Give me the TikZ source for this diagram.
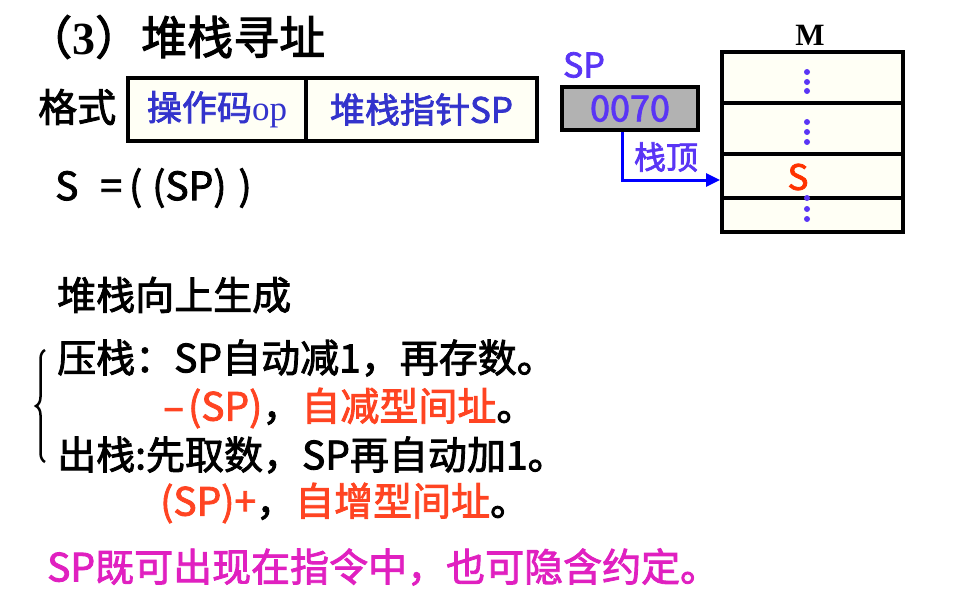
\documentclass[tikz,border=0pt]{standalone}
\usepackage{fontspec}
\setmainfont{Noto Sans CJK SC}[FakeBold=2.2]
\newfontfamily\tmsfont{Liberation Serif}
\usepackage{tikz}
\usetikzlibrary{arrows.meta, positioning, calc, decorations.pathreplacing}
\definecolor{fieldblue}{HTML}{3333CC}
\definecolor{regviolet}{HTML}{5A35F5}
\definecolor{linkblue}{HTML}{0000FF}
\definecolor{stackred}{HTML}{FF3300}
\definecolor{modered}{HTML}{FF4422}
\definecolor{notepink}{HTML}{E020C0}
\definecolor{cellfill}{HTML}{FFFFF5}
\definecolor{regfill}{HTML}{B2B2B2}
\tikzset{
    txt/.style={anchor=west, inner sep=0pt, font=\fontsize{39}{44}\selectfont},
    field/.style={rectangle, draw=black, line width=4pt, fill=cellfill, minimum height=63pt, inner sep=0pt, font=\fontsize{35}{40}\selectfont, text=fieldblue},
    cell/.style={rectangle, draw=black, line width=4pt, fill=cellfill, minimum width=181pt, inner sep=0pt},
    regbox/.style={rectangle, draw=black, line width=4pt, fill=regfill, minimum width=136pt, minimum height=43pt, inner sep=0pt, font=\fontsize{36}{40}\selectfont, text=regviolet},
    arrow/.style={-{Triangle[length=14pt, width=13pt]}, line width=3pt, draw=linkblue},
    bracel/.style={decorate, decoration={brace, amplitude=9pt}, line width=2.5pt}
}

\begin{document}
\begin{tikzpicture}[x=1pt, y=-1pt]
    \useasboundingbox (0,0) rectangle (957,604);

    % title and instruction format
    \node[txt, font=\fontsize{46}{50}\selectfont] (title) at (26,37) {（{\tmsfont\bfseries 3}）堆栈寻址};
    \node[txt] (fmt) at (38,107) {格式};
    \node[field, minimum width=178pt] (opfield) at (217,109.5) {操作码{\tmsfont op}};
    \node[field, minimum width=231pt] (spfield) at (421.5,109.5) {堆栈指针SP};
    \node[txt] (eff) at (55,188) {S\kern22pt=\kern7pt(\kern10pt(SP)\kern12pt)};

    % stack pointer and memory
    \node[regbox] (spreg) at (630,108.5) {0070};
    \node[txt, anchor=center, font=\fontsize{34}{36}\selectfont, text=regviolet] (splabel) at (584,65) {SP};
    \node[txt, anchor=center, font=\fontsize{31}{36}\selectfont, text=black] (mlabel) at (810,35) {\tmsfont\bfseries M};
    \node[cell, minimum height=51pt] (row1) at (812.5,77.5) {};
    \node[cell, minimum height=51pt] (row2) at (812.5,128.5) {};
    \node[cell, minimum height=44pt] (row3) at (812.5,176) {};
    \node[cell, minimum height=34pt] (row4) at (812.5,215) {};
    \node[txt, anchor=center, font=\fontsize{35}{36}\selectfont, text=stackred] (stop) at (798,177) {S};
    \foreach \y in {72,82,91,122,132,142,198,209,219}
        \fill[regviolet] (807,\y) circle (3);
    \node[txt, anchor=center, font=\fontsize{32}{36}\selectfont, text=regviolet] (toplabel) at (666,157) {栈顶};
    \draw[arrow] ([xshift=-8pt]spreg.south) |- ([yshift=-4pt]row3.west);

    % push and pop
    \node[txt] (grow) at (57,295) {堆栈向上生成};
    \node[txt] (push) at (57,358) {压栈：SP自动减1，再存数。};
    \node[txt] (pushmode) at (163,408) {\textcolor{modered}{–\kern4pt(SP)}，\textcolor{modered}{自减型间址}。};
    \node[txt] (pop) at (57,455) {出栈:先取数，SP再自动加1。};
    \node[txt] (popmode) at (160,503) {\textcolor{modered}{(SP)+}，\textcolor{modered}{自增型间址}。};
    \coordinate (brbot) at (45,462);
    \coordinate (brtop) at (45,350);
    \draw[bracel] (brbot) -- (brtop);

    \node[txt, text=notepink] (note) at (47,567) {SP既可出现在指令中，也可隐含约定。};
\end{tikzpicture}
\end{document}
